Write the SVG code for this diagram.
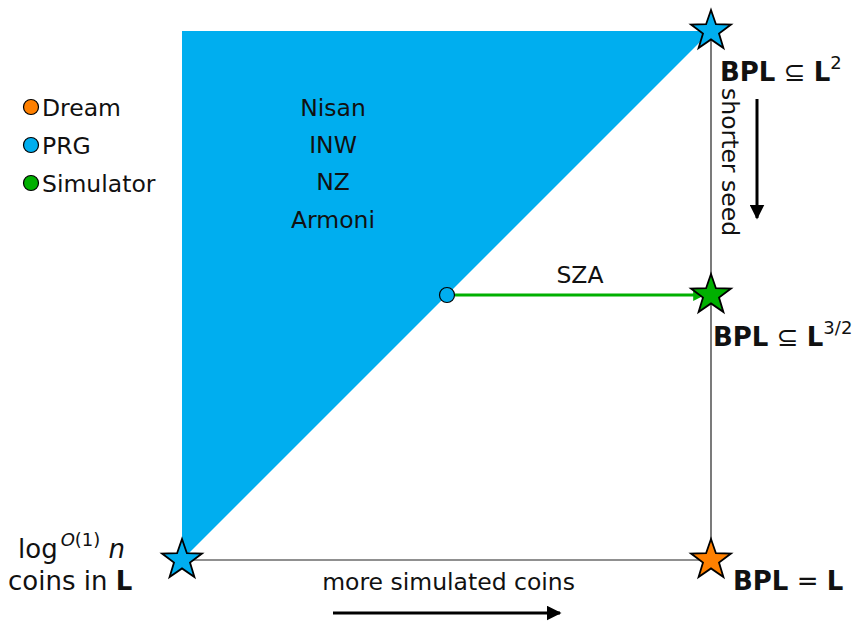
<svg xmlns="http://www.w3.org/2000/svg" width="864" height="621" viewBox="0 0 864 621">
<style>
text{font-family:"DejaVu Sans","Liberation Sans",sans-serif;font-size:23.5px;fill:#111}
.m{font-size:26px}
.b{font-weight:bold}
.sup{font-size:18px}
.star{stroke:#000;stroke-width:1.8;stroke-linejoin:miter}
.frame{stroke:#222;stroke-width:1.2;fill:none}
.dot{stroke:#000;stroke-width:1.2}
</style>
<defs>
<path id="star" d="M0,-21 L4.9,-6.8 L20,-6.5 L8,2.6 L12.4,17 L0,8.4 L-12.4,17 L-8,2.6 L-20,-6.5 L-4.9,-6.8 Z"/>
<marker id="ah" viewBox="0 0 10 10" refX="9" refY="5" markerWidth="5" markerHeight="5" markerUnits="strokeWidth" orient="auto"><path d="M0,0 L10,5 L0,10 Z" fill="#000"/></marker>
<marker id="ahg" viewBox="0 0 10 10" refX="9" refY="5" markerWidth="4" markerHeight="4" markerUnits="strokeWidth" orient="auto"><path d="M0,0 L10,5 L0,10 Z" fill="#00b000"/></marker>
</defs>
<g id="region">
<polygon points="182,31 711,31 182,560" fill="#00aeef"/>
</g>
<g id="connectors">
<line class="frame" x1="711" y1="31" x2="711" y2="560"/>
<line class="frame" x1="182" y1="560" x2="711" y2="560"/>
<line x1="455" y1="295" x2="704" y2="295" stroke="#00b000" stroke-width="3" marker-end="url(#ahg)"/>
<line x1="333" y1="613" x2="560" y2="613" stroke="#000" stroke-width="3" marker-end="url(#ah)"/>
<line x1="757" y1="99" x2="757" y2="218" stroke="#000" stroke-width="3" marker-end="url(#ah)"/>
</g>
<g id="legend">
<circle class="dot" cx="31" cy="107" r="7.5" fill="#ff8000"/>
<text x="42" y="116">Dream</text>
<circle class="dot" cx="31" cy="145" r="7.5" fill="#00aeef"/>
<text x="42" y="154">PRG</text>
<circle class="dot" cx="31" cy="183" r="7.5" fill="#00b000"/>
<text x="42" y="192">Simulator</text>
</g>
<g id="prg-list">
<text x="333" y="116" text-anchor="middle">Nisan</text>
<text x="333" y="153" text-anchor="middle">INW</text>
<text x="333" y="190" text-anchor="middle">NZ</text>
<text x="333" y="228" text-anchor="middle">Armoni</text>
</g>
<g id="sza">
<circle class="dot" cx="447" cy="295" r="7.5" fill="#00aeef"/>
<text x="580" y="283" text-anchor="middle">SZA</text>
</g>
<g id="star-top">
<use href="#star" x="711" y="31" class="star" fill="#00aeef"/>
<text class="m" x="720" y="81"><tspan class="b">BPL</tspan> ⊆ <tspan class="b">L</tspan><tspan class="sup" dy="-12">2</tspan></text>
</g>
<g id="star-mid">
<use href="#star" x="711" y="295" class="star" fill="#00b000"/>
<text class="m" x="713" y="346"><tspan class="b">BPL</tspan> ⊆ <tspan class="b">L</tspan><tspan class="sup" dy="-12">3/2</tspan></text>
</g>
<g id="star-bottom-right">
<use href="#star" x="711" y="560" class="star" fill="#ff8000"/>
<text class="m" x="733" y="590"><tspan class="b">BPL</tspan> = <tspan class="b">L</tspan></text>
</g>
<g id="star-bottom-left">
<use href="#star" x="182" y="560" class="star" fill="#00aeef"/>
<text class="m" x="18" y="558">log<tspan class="sup" dy="-12" dx="3" font-style="italic">O</tspan><tspan class="sup">(1)</tspan><tspan dy="12" font-style="italic"> n</tspan></text>
<text class="m" x="8" y="590">coins in <tspan class="b">L</tspan></text>
</g>
<g id="labels">
<text x="575" y="590" text-anchor="end">more simulated coins</text>
<text transform="translate(722,88) rotate(90)">shorter seed</text>
</g>
</svg>
